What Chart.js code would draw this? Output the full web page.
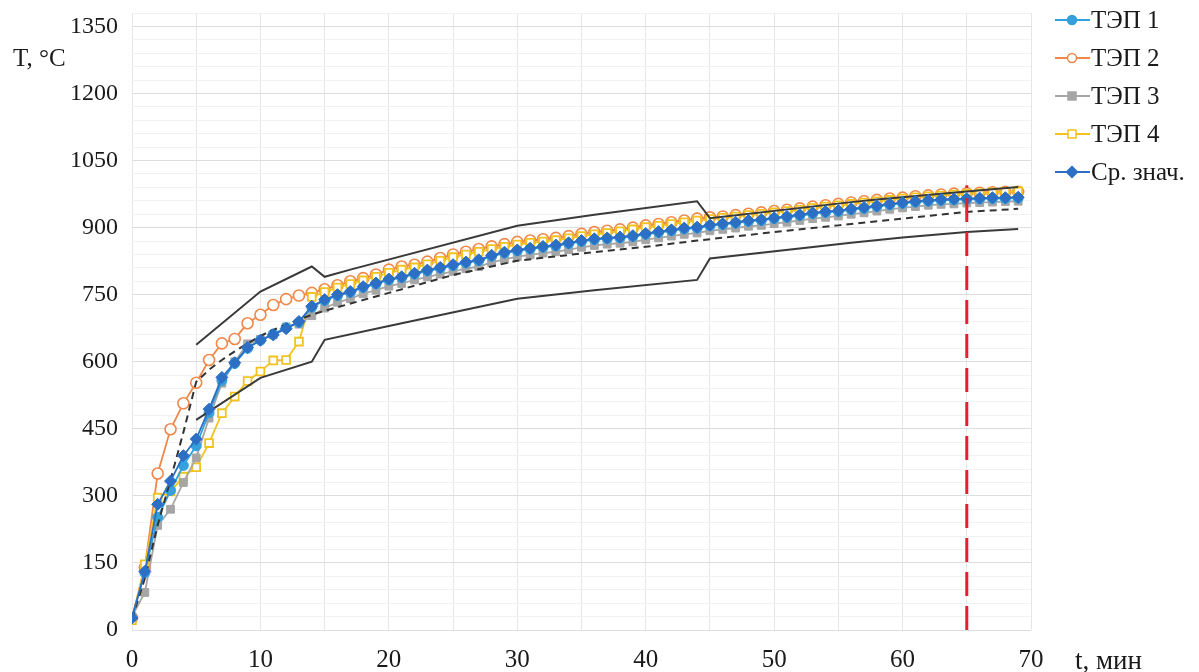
<!DOCTYPE html>
<html>
<head>
<meta charset="utf-8">
<script src="https://cdn.jsdelivr.net/npm/chart.js@4.4.1/dist/chart.umd.min.js"></script>
<style>
  html, body { margin: 0; padding: 0; background: #fff; }
  #wrap { width: 1199px; height: 672px; position: relative; }
</style>
</head>
<body>
<div id="wrap"><canvas id="chart"></canvas></div>
<script>
// time, minutes
var minutes = [0, 1, 2, 3, 4, 5, 6, 7, 8, 9, 10, 11, 12, 13, 14, 15, 16, 17, 18, 19,
  20, 21, 22, 23, 24, 25, 26, 27, 28, 29, 30, 31, 32, 33, 34, 35, 36, 37, 38, 39,
  40, 41, 42, 43, 44, 45, 46, 47, 48, 49, 50, 51, 52, 53, 54, 55, 56, 57, 58, 59,
  60, 61, 62, 63, 64, 65, 66, 67, 68, 69];

// temperature, °C
var tep1 = [28, 128, 252, 312, 368, 412, 486, 558, 596, 630, 648, 662, 676, 688, 722, 737, 748, 755, 766, 774,
  783, 788, 796, 803, 809, 815, 821, 826, 836, 843, 848, 852, 856, 859, 864, 869, 873, 875, 877, 880,
  885, 889, 893, 897, 899, 904, 907, 910, 914, 916, 920, 923, 927, 931, 934, 936, 940, 943, 947, 951,
  954, 957, 959, 961, 962, 963, 964, 965, 965, 966];
var tep2 = [27, 140, 350, 449, 507, 553, 604, 641, 651, 686, 705, 727, 740, 748, 754, 762, 771, 780, 787, 795,
  806, 813, 817, 824, 832, 840, 846, 852, 858, 863, 868, 871, 874, 877, 881, 886, 890, 893, 896, 900,
  905, 908, 912, 916, 920, 923, 925, 928, 931, 934, 937, 940, 943, 947, 950, 953, 956, 959, 962, 965,
  967, 970, 972, 974, 976, 977, 978, 979, 980, 980];
var tep3 = [30, 84, 234, 270, 330, 385, 474, 552, 600, 640, 650, 660, 678, 684, 703, 720, 733, 741, 752, 760,
  769, 775, 783, 790, 796, 802, 808, 813, 822, 829, 835, 839, 843, 846, 851, 856, 860, 863, 865, 868,
  873, 877, 881, 885, 888, 893, 896, 899, 903, 905, 909, 912, 916, 920, 923, 926, 930, 933, 937, 941,
  944, 947, 950, 952, 953, 955, 956, 957, 958, 959];
var tep4 = [22, 147, 296, 310, 343, 364, 418, 485, 522, 557, 578, 603, 604, 645, 745, 756, 766, 774, 782, 790,
  799, 806, 811, 818, 826, 834, 840, 846, 852, 857, 862, 866, 869, 872, 876, 881, 885, 888, 892, 896,
  901, 904, 908, 912, 916, 919, 922, 925, 928, 931, 934, 937, 940, 944, 947, 950, 953, 956, 959, 962,
  965, 968, 970, 972, 974, 976, 977, 979, 980, 981];
var meanT = [27, 131, 281, 333, 390, 427, 494, 565, 598, 632, 648, 660, 674, 690, 724, 739, 750, 757, 768, 776,
  785, 790, 798, 805, 811, 817, 823, 828, 838, 845, 850, 854, 858, 861, 866, 871, 875, 877, 879, 882,
  887, 891, 895, 899, 901, 906, 909, 912, 916, 918, 922, 925, 929, 933, 936, 938, 942, 945, 949, 953,
  956, 959, 961, 963, 964, 965, 966, 967, 967, 968];

// dashed black curve
var dashTime = [0, 1, 2, 3, 4, 5, 6, 7, 8, 9, 10, 11, 12, 13, 14, 15, 20, 25, 30, 35, 40, 44, 50, 55, 60, 65, 69];
var dashT = [25, 115, 235, 336, 442, 555, 582, 604, 623, 641, 658, 671, 683, 694, 705, 714, 754, 794, 826, 842, 857, 871, 890, 905, 920, 935, 942];

// upper and lower solid black bounds
var upperTime = [5, 10, 14, 15, 17, 30, 36, 44, 45, 56, 58, 65, 69];
var upperT = [638, 757, 813, 790, 806, 904, 929, 959, 921, 957, 963, 981, 991];
var lowerTime = [5, 10, 14, 15, 20, 30, 36, 44, 45, 56, 60, 65, 69];
var lowerT = [470, 564, 600, 649, 680, 741, 760, 783, 831, 866, 878, 890, 897];

// red limit line
var limitTime = [65, 65];
var limitT = [0, 995];

var xTicks = [0, 10, 20, 30, 40, 50, 60, 70];
var yTicks = [0, 150, 300, 450, 600, 750, 900, 1050, 1200, 1350];

var serif = '"Liberation Serif", "DejaVu Serif", serif';

function pairs(xs, ys) {
  return xs.map(function (x, i) { return { x: x, y: ys[i] }; });
}

var legendItems = [
  { text: 'ТЭП 1', color: '#34a0dc', style: 'circle', fill: '#34a0dc' },
  { text: 'ТЭП 2', color: '#f0884a', style: 'circle', fill: '#ffffff' },
  { text: 'ТЭП 3', color: '#a6a6a6', style: 'rect', fill: '#a6a6a6' },
  { text: 'ТЭП 4', color: '#f2c21f', style: 'rect', fill: '#ffffff' },
  { text: 'Ср. знач.', color: '#2c6fc4', style: 'rectRot', fill: '#2c6fc4' }
];

function drawMarker(ctx, item, x, y) {
  ctx.save();
  ctx.fillStyle = item.fill;
  ctx.strokeStyle = item.color;
  ctx.lineWidth = 1.5;
  ctx.beginPath();
  if (item.style === 'circle') {
    ctx.arc(x, y, 4.5, 0, Math.PI * 2);
  } else if (item.style === 'rect') {
    ctx.rect(x - 4, y - 4, 8, 8);
  } else {
    ctx.moveTo(x, y - 5.5);
    ctx.lineTo(x + 5.5, y);
    ctx.lineTo(x, y + 5.5);
    ctx.lineTo(x - 5.5, y);
    ctx.closePath();
  }
  ctx.fill();
  ctx.stroke();
  ctx.restore();
}

var extras = {
  id: 'extras',
  afterDraw: function (chart) {
    var ctx = chart.ctx;
    ctx.save();
    ctx.fillStyle = '#1a1a1a';
    ctx.textAlign = 'left';
    ctx.textBaseline = 'alphabetic';
    ctx.font = '25px ' + serif;
    ctx.fillText('T, °C', 13, 66);
    ctx.font = '27px ' + serif;
    ctx.fillText('t, мин', 1075, 669);

    // legend
    ctx.font = '25px ' + serif;
    legendItems.forEach(function (item, i) {
      var y = 20 + i * 38;
      ctx.strokeStyle = item.color;
      ctx.lineWidth = 2;
      ctx.beginPath();
      ctx.moveTo(1055, y);
      ctx.lineTo(1090, y);
      ctx.stroke();
      drawMarker(ctx, item, 1072, y);
      ctx.fillStyle = '#1a1a1a';
      ctx.fillText(item.text, 1091, y + 8);
    });
    ctx.restore();
  }
};

var series = function (label, xs, ys, opts) {
  var ds = {
    label: label,
    data: pairs(xs, ys),
    borderWidth: 1.8,
    tension: 0,
    pointRadius: 0,
    pointHoverRadius: 0,
    fill: false
  };
  Object.keys(opts).forEach(function (k) { ds[k] = opts[k]; });
  return ds;
};

var datasets = [
  series('limit', limitTime, limitT, { borderColor: '#e4202a', borderWidth: 3, borderDash: [24, 10], order: 0 }),
  series('Ср. знач.', minutes, meanT, { borderColor: '#2c6fc4', backgroundColor: '#2c6fc4', pointStyle: 'rectRot', pointRadius: 6, pointBorderWidth: 1, order: 1 }),
  series('dashed', dashTime, dashT, { borderColor: '#333333', borderWidth: 2, borderDash: [7, 5], order: 2 }),
  series('upper', upperTime, upperT, { borderColor: '#3a3a3a', borderWidth: 2, order: 3 }),
  series('lower', lowerTime, lowerT, { borderColor: '#3a3a3a', borderWidth: 2, order: 3 }),
  series('ТЭП 1', minutes, tep1, { borderColor: '#34a0dc', backgroundColor: '#34a0dc', pointStyle: 'circle', pointRadius: 5, pointBorderWidth: 1, order: 4 }),
  series('ТЭП 3', minutes, tep3, { borderColor: '#a6a6a6', backgroundColor: '#a6a6a6', pointStyle: 'rect', pointRadius: 5.5, pointBorderWidth: 1, order: 5 }),
  series('ТЭП 4', minutes, tep4, { borderColor: '#f2c21f', backgroundColor: '#ffffff', pointStyle: 'rect', pointRadius: 5.5, pointBorderWidth: 1.8, order: 6 }),
  series('ТЭП 2', minutes, tep2, { borderColor: '#f0884a', backgroundColor: '#ffffff', pointStyle: 'circle', pointRadius: 5.5, pointBorderWidth: 1.6, order: 7 })
];

new Chart(document.getElementById('chart').getContext('2d'), {
  type: 'line',
  data: { datasets: datasets },
  options: {
    responsive: true,
    maintainAspectRatio: false,
    animation: false,
    events: [],
    layout: { padding: { left: 0, right: 168, top: 13, bottom: 0 } },
    plugins: { legend: { display: false }, tooltip: { enabled: false } },
    scales: {
      x: {
        type: 'linear',
        min: 0,
        max: 70,
        afterFit: function (scale) {
          scale.height = 42;
          scale.paddingLeft = 0;
          scale.paddingRight = 0;
        },
        ticks: {
          stepSize: 5,
          autoSkip: false,
          maxRotation: 0,
          padding: 15,
          color: '#1a1a1a',
          font: { family: serif, size: 25 },
          callback: function (v) { return xTicks.indexOf(v) >= 0 ? String(v) : ''; }
        },
        grid: { color: '#e6e6e6', lineWidth: 1, drawTicks: false },
        border: { display: false }
      },
      y: {
        min: 0,
        max: 1380,
        afterFit: function (scale) {
          scale.width = 132;
          scale.paddingTop = 0;
          scale.paddingBottom = 0;
        },
        ticks: {
          stepSize: 30,
          autoSkip: false,
          padding: 14,
          color: '#1a1a1a',
          font: { family: serif, size: 24 },
          callback: function (v) { return yTicks.indexOf(v) >= 0 ? String(v) : ''; }
        },
        grid: {
          color: function (c) { return yTicks.indexOf(c.tick.value) >= 0 ? '#dedede' : '#f2f2f2'; },
          lineWidth: 1,
          drawTicks: false
        },
        border: { display: false }
      }
    }
  },
  plugins: [extras]
});
</script>
</body>
</html>
